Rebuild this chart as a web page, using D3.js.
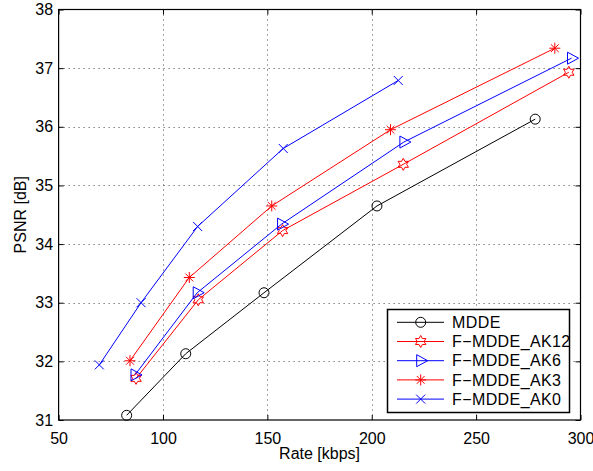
<!DOCTYPE html>
<html>
<head>
<meta charset="utf-8">
<script src="https://cdn.jsdelivr.net/npm/d3@7"></script>
<style>
  body { margin: 0; background: #fff; }
  svg { font-family: "Liberation Sans", Arial, sans-serif; }
</style>
</head>
<body>
<svg id="chart" width="593" height="471"></svg>
<script>
// series data (Rate kbps, PSNR dB)
const seriesNames = ['MDDE', 'F\u2212MDDE_AK12', 'F\u2212MDDE_AK6', 'F\u2212MDDE_AK3', 'F\u2212MDDE_AK0'];
const mddeRate = [82.6, 110.9, 148.4, 202.5, 278.3];
const mddePsnr = [31.08, 32.13, 33.17, 34.65, 36.13];
const ak12Rate = [87.1, 116.9, 157.3, 215.1, 294.4];
const ak12Psnr = [31.71, 33.05, 34.23, 35.36, 36.93];
const ak6Rate = [86.6, 116.4, 156.8, 215.4, 295.7];
const ak6Psnr = [31.77, 33.17, 34.34, 35.74, 37.17];
const ak3Rate = [84.2, 112.6, 152.1, 209.0, 287.7];
const ak3Psnr = [32.01, 33.43, 34.65, 35.95, 37.34];
const ak0Rate = [69.5, 89.5, 116.6, 157.6, 212.7];
const ak0Psnr = [31.94, 33.0, 34.30, 35.63, 36.79];
const xTicks = [50, 100, 150, 200, 250, 300];
const yTicks = [31, 32, 33, 34, 35, 36, 37, 38];

const series = [
  { name: seriesNames[0], rate: mddeRate, psnr: mddePsnr, color: '#000000', marker: 'circle' },
  { name: seriesNames[1], rate: ak12Rate, psnr: ak12Psnr, color: '#ff0000', marker: 'hexagram' },
  { name: seriesNames[2], rate: ak6Rate, psnr: ak6Psnr, color: '#0000ff', marker: 'triangle' },
  { name: seriesNames[3], rate: ak3Rate, psnr: ak3Psnr, color: '#ff0000', marker: 'asterisk' },
  { name: seriesNames[4], rate: ak0Rate, psnr: ak0Psnr, color: '#0000ff', marker: 'cross' },
];

const margin = { left: 58.6, right: 12.5, top: 9.5, bottom: 51 };
const width = 593, height = 471;
const svg = d3.select('#chart');

const x = d3.scaleLinear().domain([50, 300]).range([margin.left, width - margin.right]);
const y = d3.scaleLinear().domain([31, 38]).range([height - margin.bottom, margin.top]);

const fs = '16px';

// grid
const grid = svg.append('g').attr('stroke', '#444').attr('stroke-width', 1).attr('stroke-dasharray', '1,4');
grid.selectAll('.gx').data(xTicks.slice(1, -1)).enter().append('line')
  .attr('x1', d => Math.round(x(d)) + 0.5).attr('x2', d => Math.round(x(d)) + 0.5)
  .attr('y1', y(38)).attr('y2', y(31));
grid.selectAll('.gy').data(yTicks.slice(1, -1)).enter().append('line')
  .attr('y1', d => Math.round(y(d)) + 0.5).attr('y2', d => Math.round(y(d)) + 0.5)
  .attr('x1', x(50)).attr('x2', x(300));

// axes with inward ticks on all four sides
const tickLen = 5;
const xAxisB = d3.axisBottom(x).tickValues(xTicks).tickSizeInner(-tickLen).tickSizeOuter(0).tickPadding(12.5).tickFormat(d3.format('d'));
const xAxisT = d3.axisTop(x).tickValues(xTicks).tickSizeInner(-tickLen).tickSizeOuter(0).tickFormat('');
const yAxisL = d3.axisLeft(y).tickValues(yTicks).tickSizeInner(-tickLen).tickSizeOuter(0).tickPadding(5.5).tickFormat(d3.format('d'));
const yAxisR = d3.axisRight(y).tickValues(yTicks).tickSizeInner(-tickLen).tickSizeOuter(0).tickFormat('');

function styleAxis(g) {
  g.select('.domain').remove();
  g.selectAll('line').attr('stroke', '#000');
  g.selectAll('text').attr('fill', '#000').style('font-size', fs).style('font-family', '"Liberation Sans", Arial, sans-serif');
}
svg.append('g').attr('transform', `translate(0,${y(31)})`).call(xAxisB).call(styleAxis);
svg.append('g').attr('transform', `translate(0,${y(38)})`).call(xAxisT).call(styleAxis);
svg.append('g').attr('transform', `translate(${x(50)},0)`).call(yAxisL).call(styleAxis);
svg.append('g').attr('transform', `translate(${x(300)},0)`).call(yAxisR).call(styleAxis);

// box
svg.append('rect')
  .attr('x', x(50)).attr('y', y(38))
  .attr('width', x(300) - x(50)).attr('height', y(31) - y(38))
  .attr('fill', 'none').attr('stroke', '#000').attr('stroke-width', 1.2);

// axis labels
svg.append('text').attr('x', x(175)).attr('y', 458.5)
  .attr('text-anchor', 'middle').style('font-size', fs).text('Rate [kbps]');
svg.append('text').attr('transform', `translate(25.5,${y(34.5)}) rotate(-90)`)
  .attr('text-anchor', 'middle').style('font-size', fs).text('PSNR [dB]');

// marker drawing
function starPath(r1, r2, n) {
  const pts = [];
  for (let i = 0; i < 2 * n; i++) {
    const a = -Math.PI / 2 + i * Math.PI / n;
    const r = i % 2 === 0 ? r1 : r2;
    pts.push([r * Math.cos(a), r * Math.sin(a)]);
  }
  return 'M' + pts.map(p => p.join(',')).join('L') + 'Z';
}
function drawMarker(g, type, color) {
  g.attr('fill', 'none').attr('stroke', color).attr('stroke-width', 1);
  if (type === 'circle') {
    g.append('circle').attr('r', 5);
  } else if (type === 'hexagram') {
    g.append('path').attr('d', starPath(6, 3.4, 6));
  } else if (type === 'triangle') {
    g.append('path').attr('d', 'M-4,-6L7,0L-4,6Z');
  } else if (type === 'asterisk') {
    const r = 5.5, d = r * 0.7071;
    g.append('path').attr('d', `M${-r},0L${r},0M0,${-r}L0,${r}M${-d},${-d}L${d},${d}M${-d},${d}L${d},${-d}`);
  } else if (type === 'cross') {
    const d = 4.5;
    g.append('path').attr('d', `M${-d},${-d}L${d},${d}M${-d},${d}L${d},${-d}`);
  }
}

const line = d3.line().x(d => x(d[0])).y(d => y(d[1]));
series.forEach(s => {
  const pts = s.rate.map((r, i) => [r, s.psnr[i]]);
  svg.append('path').datum(pts).attr('d', line)
    .attr('fill', 'none').attr('stroke', s.color).attr('stroke-width', 1);
  svg.append('g').selectAll('g').data(pts).enter().append('g')
    .attr('transform', d => `translate(${x(d[0])},${y(d[1])})`)
    .each(function () { drawMarker(d3.select(this), s.marker, s.color); });
});

// legend
const lg = svg.append('g');
lg.append('rect').attr('x', 387.5).attr('y', 309.5).attr('width', 182).attr('height', 103)
  .attr('fill', '#fff').attr('stroke', '#000').attr('stroke-width', 1.5);
series.forEach((s, i) => {
  const cy = 322.3 + i * 19.2;
  lg.append('line').attr('x1', 397).attr('x2', 444).attr('y1', cy).attr('y2', cy)
    .attr('stroke', s.color).attr('stroke-width', 1);
  drawMarker(lg.append('g').attr('transform', `translate(420.7,${cy})`), s.marker, s.color);
  lg.append('text').attr('x', 452).attr('y', cy + 5.6).style('font-size', fs)
    .style('letter-spacing', '0.4px').text(s.name);
});
</script>
</body>
</html>
